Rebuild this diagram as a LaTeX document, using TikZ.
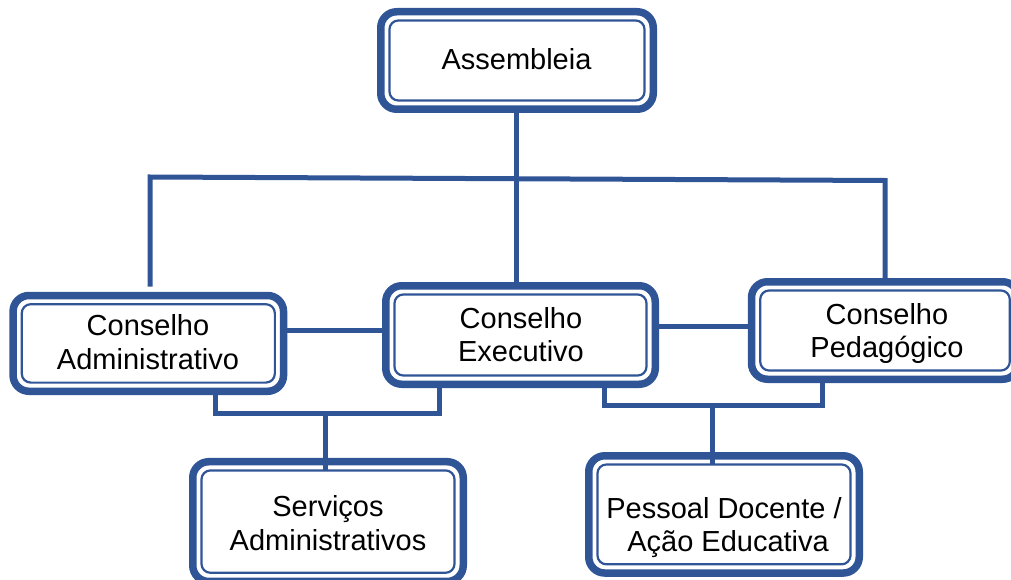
\documentclass[tikz,border=0pt]{standalone}
\usepackage{fontspec}
\setmainfont{Liberation Sans}
\definecolor{blu}{RGB}{47,85,151}
\begin{document}
\begin{tikzpicture}[x=1pt,y=-1pt,
  box/.style={draw=blu, line width=7.5pt, rounded corners=16pt, inner sep=0pt, outer sep=0pt},
  innerline/.style={draw=blu, line width=2.2pt, rounded corners=9pt},
  conn/.style={draw=blu, line width=5pt, line join=miter},
  lbl/.style={inner sep=0pt, align=center, font=\fontsize{29}{33.5}\selectfont}]
\useasboundingbox (0,0) rectangle (1011,580);
\clip (0,0) rectangle (1011,580);
% boxes
\node[box, minimum width=272.5pt, minimum height=97.5pt] (asm) at (517,60.5) {};
\node[box, minimum width=270.5pt, minimum height=95.8pt] (adm) at (148.3,343.4) {};
\node[box, minimum width=269.5pt, minimum height=98.5pt] (exe) at (520.5,335) {};
\node[box, minimum width=267pt, minimum height=97.5pt] (ped) at (885,330.5) {};
\node[box, minimum width=270.5pt, minimum height=119.75pt] (srv) at (328,521.6) {};
\node[box, minimum width=270.5pt, minimum height=117.25pt] (pes) at (724,514.4) {};
\foreach \n in {asm,adm,exe,ped,srv,pes}
  \draw[innerline] ([xshift=8.7pt,yshift=-8.7pt]\n.north west) rectangle ([xshift=-8.7pt,yshift=8.7pt]\n.south east);
% labels
\node[lbl, anchor=base] (tasm) at (516.5,70) {Assembleia};
\node[lbl] (tadm) at (148,342.2) {Conselho\\Administrativo};
\node[lbl] (texe) at (521,334.5) {Conselho\\Executivo};
\node[lbl] (tped) at (887,333.5) {Conselho\\Pedagógico};
\node[lbl] (tsrv) at (328,523) {Serviços\\Administrativos};
\node[lbl] (tpes) at (724,527.5) {Pessoal Docente /\\\hspace*{0.28em}Ação Educativa};
% connector points
\coordinate (hl) at (150,177);
\coordinate (hr) at (885,180.5);
\coordinate (hm) at (516,179);
\coordinate (b1l) at (215.5,413);
\coordinate (b1r) at (439.5,413);
\coordinate (b1m) at (325.5,413);
\coordinate (b2l) at (604.5,405.5);
\coordinate (b2r) at (822.5,405.5);
\coordinate (b2m) at (712.5,405.5);
% connectors
\draw[conn] (asm.south -| hm) -- (exe.north -| hm);
\draw[conn] ([yshift=9pt]adm.north -| hl) -- (hl) -- (hr) -- (ped.north -| hr);
\draw[conn] (adm.east |- 0,330) -- (exe.west |- 0,330);
\draw[conn] (exe.east |- 0,326) -- (ped.west |- 0,326);
\draw[conn] (adm.south -| b1l) -- (b1l) -- (b1r) -- (exe.south -| b1r);
\draw[conn] (b1m) -- ([yshift=-9pt]srv.north -| b1m);
\draw[conn] (exe.south -| b2l) -- (b2l) -- (b2r) -- (ped.south -| b2r);
\draw[conn] (b2m) -- ([yshift=-9pt]pes.north -| b2m);
\end{tikzpicture}
\end{document}
